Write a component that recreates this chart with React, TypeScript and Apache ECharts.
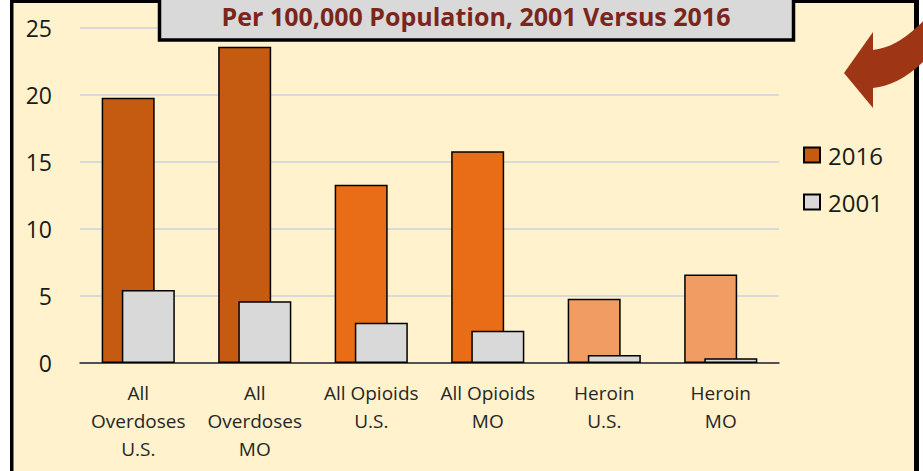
import React, { useEffect, useRef } from "react";
import * as echarts from "echarts";

const categories = [
  "All\nOverdoses\nU.S.",
  "All\nOverdoses\nMO",
  "All Opioids\nU.S.",
  "All Opioids\nMO",
  "Heroin\nU.S.",
  "Heroin\nMO",
];
const values2016 = [19.8, 23.6, 13.3, 15.8, 4.8, 6.6];
const values2001 = [5.45, 4.6, 3.0, 2.4, 0.6, 0.35];
const colors2016 = ["#c55a11", "#c55a11", "#e96c17", "#e96c17", "#f19c62", "#f19c62"];
const seriesNames = ["2016", "2001"];
const titleText = "Per 100,000 Population, 2001 Versus 2016";

const arrowPath =
  "M 844 73 L 873 32 L 873 50 C 890 48 906 40 930 14 L 930 55 C 910 76 892 86 873 88 L 873 108 Z";

let registered = false;

export default function App() {
  const ref = useRef<HTMLDivElement>(null);
  useEffect(() => {
    if (!ref.current) return;
    if (!registered) {
      echarts.graphic.registerShape("curvedArrow", echarts.graphic.extendPath(arrowPath, {}));
      registered = true;
    }
    const chart = echarts.init(ref.current, null, { renderer: "svg" });
    const font = "'Open Sans', sans-serif";
    chart.setOption({
      animation: false,
      backgroundColor: "#ffffff",
      textStyle: { fontFamily: font },
      grid: { left: 80, right: 144, top: 28, bottom: 108, containLabel: false },
      legend: {
        orient: "vertical",
        left: 798,
        top: 138,
        itemWidth: 16,
        itemHeight: 15,
        itemGap: 23,
        icon: "rect",
        data: seriesNames,
        textStyle: { fontSize: 24, color: "#1a1a1a", fontFamily: font, padding: [0, 0, 0, 3] },
      },
      xAxis: {
        type: "category",
        data: categories,
        axisLine: { lineStyle: { color: "#262626", width: 1.5 } },
        axisTick: { show: false },
        axisLabel: {
          fontSize: 19,
          lineHeight: 28,
          color: "#262626",
          margin: 16,
          interval: 0,
          fontFamily: font,
        },
      },
      yAxis: {
        type: "value",
        min: 0,
        max: 25,
        interval: 5,
        axisLine: { show: false },
        axisTick: { show: false },
        axisLabel: { fontSize: 23, color: "#1a1a1a", margin: 28, fontFamily: font },
        splitLine: { lineStyle: { color: "#d9d9d9", width: 2 } },
      },
      series: [
        {
          name: seriesNames[0],
          type: "bar",
          barWidth: 53,
          barGap: "-62%",
          itemStyle: { color: colors2016[0], borderColor: "#000", borderWidth: 1.5 },
          data: values2016.map((v, i) => ({ value: v, itemStyle: { color: colors2016[i] } })),
        },
        {
          name: seriesNames[1],
          type: "bar",
          barWidth: 53,
          barGap: "-62%",
          itemStyle: { color: "#d9d9d9", borderColor: "#000", borderWidth: 1.5 },
          data: values2001,
        },
      ],
      graphic: [
        {
          type: "rect",
          z: -10,
          silent: true,
          shape: { x: 10, y: 0, width: 909, height: 471 },
          style: { fill: "#fff2cc" },
        },
        {
          type: "rect",
          z: -9,
          silent: true,
          shape: { x: 10, y: 0, width: 3.5, height: 471 },
          style: { fill: "#000" },
        },
        {
          type: "rect",
          z: -9,
          silent: true,
          shape: { x: 10, y: 0, width: 909, height: 3 },
          style: { fill: "#000" },
        },
        {
          type: "rect",
          z: -9,
          silent: true,
          shape: { x: 914, y: 0, width: 5, height: 471 },
          style: { fill: "#000" },
        },
        {
          type: "rect",
          z: 100,
          silent: true,
          shape: { x: 159.5, y: -10, width: 634, height: 50 },
          style: { fill: "#d9d9d9", stroke: "#000", lineWidth: 3.5 },
        },
        {
          type: "text",
          z: 101,
          silent: true,
          x: 476,
          y: 16,
          style: {
            text: titleText,
            fill: "#7b261c",
            font: "bold 25px 'Open Sans', sans-serif",
            align: "center",
            verticalAlign: "middle",
          },
        },
        {
          type: "curvedArrow",
          z: 102,
          silent: true,
          x: 0,
          y: 0,
          scaleX: 1,
          scaleY: 1,
          style: { fill: "#9e3615" },
        },
      ],
    });
    return () => chart.dispose();
  }, []);
  return (
    <div
      ref={ref}
      style={{ position: "absolute", left: 0, top: 0, width: 923, height: 471 }}
    />
  );
}
